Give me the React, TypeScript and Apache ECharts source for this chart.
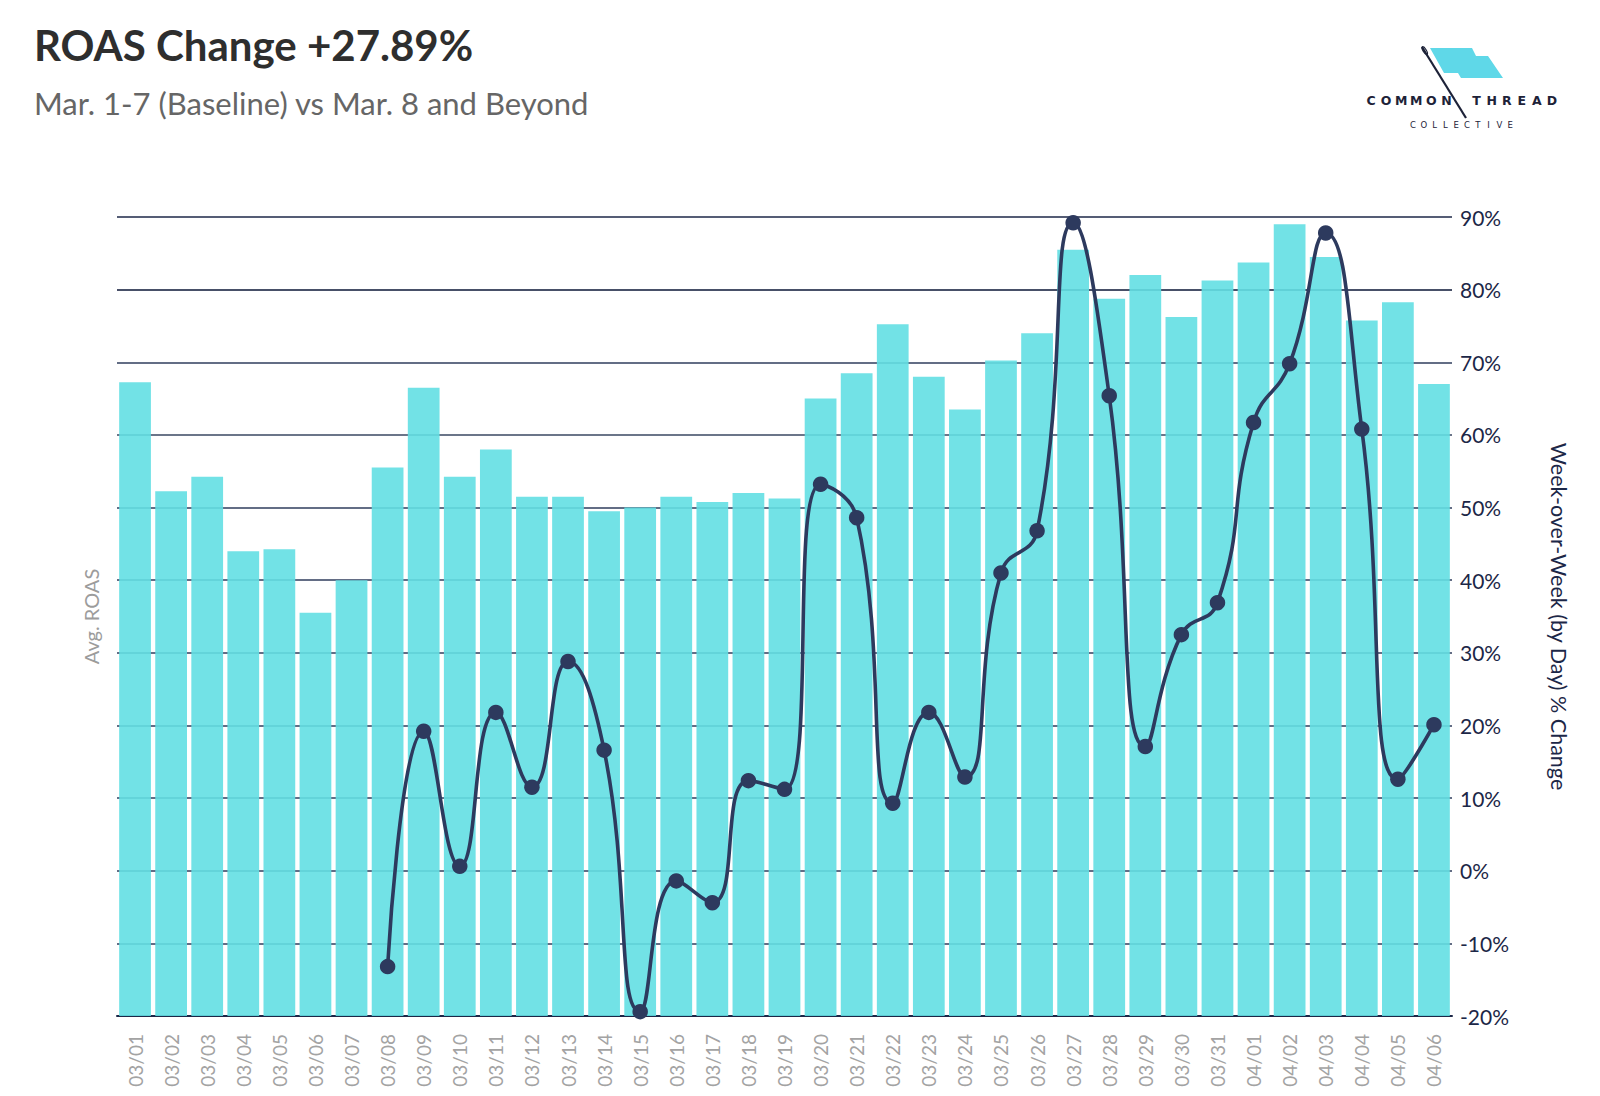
import { useEffect, useRef } from "react";
import * as echarts from "echarts";

const categories = [
  "03/01", "03/02", "03/03", "03/04", "03/05", "03/06", "03/07", "03/08", "03/09", "03/10",
  "03/11", "03/12", "03/13", "03/14", "03/15", "03/16", "03/17", "03/18", "03/19", "03/20",
  "03/21", "03/22", "03/23", "03/24", "03/25", "03/26", "03/27", "03/28", "03/29", "03/30",
  "03/31", "04/01", "04/02", "04/03", "04/04", "04/05", "04/06",
];

// Avg. ROAS per day (left axis, labels hidden in the original)
const avgRoas = [
  3.49, 2.89, 2.97, 2.56, 2.57, 2.22, 2.4, 3.02, 3.46, 2.97,
  3.12, 2.86, 2.86, 2.78, 2.8, 2.86, 2.83, 2.88, 2.85, 3.4,
  3.54, 3.81, 3.52, 3.34, 3.61, 3.76, 4.22, 3.95, 4.08, 3.85,
  4.05, 4.15, 4.36, 4.18, 3.83, 3.93, 3.48,
];

// Week-over-week % change (right axis), baseline week has no value
const wowChange = [
  null, null, null, null, null, null, null, -13.2, 19.2, 0.6,
  21.8, 11.5, 28.8, 16.6, -19.4, -1.4, -4.4, 12.4, 11.2, 53.2,
  48.6, 9.3, 21.8, 12.9, 41.0, 46.8, 89.2, 65.4, 17.1, 32.5,
  36.9, 61.7, 69.8, 87.8, 60.8, 12.6, 20.1,
];

const title = "ROAS Change +27.89%";
const subtitle = "Mar. 1-7 (Baseline) vs Mar. 8 and Beyond";
const logoTop = "COMMON THREAD";
const logoBottom = "COLLECTIVE";

const NAVY = "#1c2747";
const FONT = "Lato, 'Open Sans', sans-serif";

function spacedLetters(text: string, x0: number, step: number, y: number, style: any) {
  return text.split("").map((ch, i) => ({
    type: "text",
    x: x0 + i * step,
    y,
    style: { text: ch, textAlign: "center", textVerticalAlign: "bottom", ...style },
  }));
}

export default function App() {
  const ref = useRef<HTMLDivElement>(null);

  useEffect(() => {
    if (!ref.current) return;
    const chart = echarts.init(ref.current, undefined, { renderer: "svg" });

    chart.setOption({
      animation: false,
      backgroundColor: "#fff",
      title: [
        {
          text: title, left: 34, top: 24, padding: 0,
          textStyle: { fontFamily: FONT, fontSize: 42, fontWeight: "bold", color: "#2e2e2e" },
        },
        {
          text: subtitle, left: 34, top: 87, padding: 0,
          textStyle: { fontFamily: FONT, fontSize: 31, fontWeight: "normal", color: "#666" },
        },
      ],
      grid: { left: 117, right: 148, top: 217, bottom: 80 },
      xAxis: {
        type: "category",
        data: categories,
        axisLine: { lineStyle: { color: NAVY, width: 2 } },
        axisTick: { alignWithLabel: true, length: 10, lineStyle: { color: "#dcdcdc", width: 1.5 } },
        axisLabel: { rotate: 90, margin: 18, color: "#a3a3a3", fontFamily: FONT, fontSize: 19 },
      },
      yAxis: [
        {
          type: "value", min: 0, max: 4.4, position: "left",
          name: "Avg. ROAS", nameLocation: "middle", nameGap: 16,
          nameTextStyle: { color: "#9c9c9c", fontFamily: FONT, fontSize: 20 },
          axisLabel: { show: false }, axisTick: { show: false }, axisLine: { show: false },
          splitLine: { show: false },
        },
        {
          type: "value", min: -20, max: 90, interval: 10, position: "right",
          name: "Week-over-Week (by Day) % Change", nameLocation: "middle", nameGap: 96, nameRotate: -90,
          nameTextStyle: { color: NAVY, fontFamily: FONT, fontSize: 21.5 },
          axisLabel: { formatter: "{value}%", color: NAVY, fontFamily: FONT, fontSize: 21, margin: 8 },
          axisTick: { show: false }, axisLine: { show: false },
          splitLine: {
            lineStyle: {
              width: 1.5,
              color: ["#1c2747", "#2f3d5c", "#2f3d5c", "#2f3d5c", "#2f3d5c", "#2f3d5c",
                "#2f3d5c", "#2f3d5c", "#3a4762", "#2f3d5c", "#0b1636"],
            },
          },
        },
      ],
      series: [
        {
          type: "bar", name: "Avg. ROAS", data: avgRoas, yAxisIndex: 0,
          barCategoryGap: "12%",
          itemStyle: { color: "#63dfe3", opacity: 0.9 },
        },
        {
          type: "line", name: "WoW % Change", data: wowChange, yAxisIndex: 1,
          smooth: 0.5, clip: false, connectNulls: false,
          symbol: "circle", symbolSize: 15.5, showSymbol: true,
          lineStyle: { color: "#2d3a5e", width: 3.6 },
          itemStyle: { color: "#2d3a5e" },
          z: 5,
        },
      ],
      graphic: [
        {
          type: "polygon",
          shape: { points: [[1430, 48], [1472, 48], [1476, 56], [1488, 56], [1503, 78], [1461, 78], [1458, 73], [1444, 73]] },
          style: { fill: "#5fd8e8" },
        },
        { type: "line", shape: { x1: 1422, y1: 47, x2: 1466, y2: 118 }, style: { stroke: "#1d2238", lineWidth: 2.2 } },
        { type: "ellipse", shape: { cx: 1424, cy: 51, rx: 1.6, ry: 4.5 }, rotation: 0.55, originX: 1424, originY: 51, style: { fill: "none", stroke: "#1d2238", lineWidth: 1.2 } },
        ...spacedLetters(logoTop, 1371, 15.08, 107, { fill: "#1d2238", font: "bold 12.5px 'DejaVu Sans', sans-serif" }),
        ...spacedLetters(logoBottom, 1413, 10.8, 129.5, { fill: "#1d2238", font: "8.5px 'DejaVu Sans', sans-serif" }),
      ],
    });

    return () => chart.dispose();
  }, []);

  return <div ref={ref} style={{ position: "fixed", left: 0, top: 0, width: 1600, height: 1096 }} />;
}
